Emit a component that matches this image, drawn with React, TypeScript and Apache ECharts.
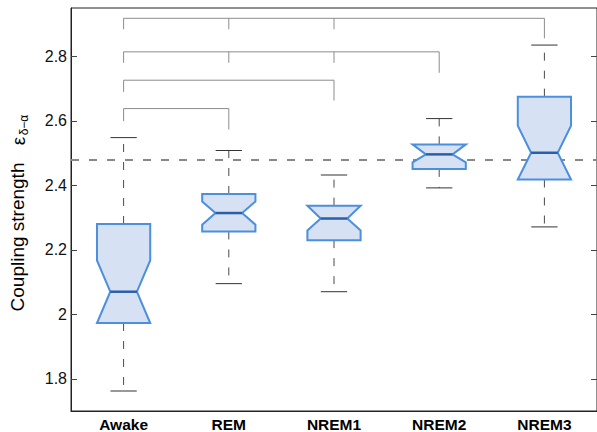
import React, { useEffect, useRef } from "react";
import * as echarts from "echarts";

const categories = ["Awake", "REM", "NREM1", "NREM2", "NREM3"];
const whiskerLow = [1.762, 2.095, 2.07, 2.392, 2.271];
const q1 = [1.973, 2.257, 2.23, 2.451, 2.418];
const notchLow = [1.973, 2.278, 2.26, 2.471, 2.418];
const median = [2.07, 2.314, 2.297, 2.496, 2.501];
const notchHigh = [2.167, 2.35, 2.337, 2.527, 2.585];
const q3 = [2.28, 2.373, 2.337, 2.527, 2.675];
const whiskerHigh = [2.548, 2.508, 2.432, 2.607, 2.835];
const referenceLevel = 2.476;
const yTicks = [1.8, 2.0, 2.2, 2.4, 2.6, 2.8];

const bracketFrom = [0, 0, 0, 0];
const bracketTo = [4, 3, 2, 1];
const bracketLevel = [2.918, 2.814, 2.726, 2.638];
const bracketStartDrop = [2.884, 2.78, 2.69, 2.599];
const bracketEndDrop = [2.856, 2.749, 2.663, 2.573];
const bracketMidCount = [2, 2, 0, 0];

const BOX_EDGE = "#4c8fdd";
const BOX_FILL = "#d6e1f3";
const MEDIAN = "#2b5ea9";
const WHISKER = "#4a4a4a";
const BRACKET = "#8c8c8c";
const FONT = "Liberation Sans, Arial, sans-serif";

export default function App() {
  const ref = useRef<HTMLDivElement>(null);
  useEffect(() => {
    if (!ref.current) return;
    const chart = echarts.init(ref.current, null, { renderer: "svg" });

    const boxData = categories.map((_, i) => [
      i,
      whiskerLow[i],
      q1[i],
      notchLow[i],
      median[i],
      notchHigh[i],
      q3[i],
      whiskerHigh[i],
    ]);
    const bracketData = bracketFrom.map((f, i) => [
      f,
      bracketLevel[i],
      bracketTo[i],
      bracketStartDrop[i],
      bracketEndDrop[i],
      bracketMidCount[i],
    ]);

    const option: any = {
      animation: false,
      backgroundColor: "#ffffff",
      grid: {
        left: 71,
        right: -2,
        top: 8,
        bottom: 20,
        show: true,
        borderColor: "#222",
        borderWidth: 1,
      },
      xAxis: {
        type: "category",
        data: categories,
        boundaryGap: true,
        axisTick: { show: false },
        axisLine: { lineStyle: { color: "#222", width: 1 } },
        axisLabel: {
          color: "#000",
          fontFamily: FONT,
          fontWeight: "bold",
          fontSize: 15.5,
          margin: 5,
        },
        splitLine: { show: false },
      },
      yAxis: [
        {
          type: "value",
          min: 1.7,
          max: 2.95,
          axisLine: { show: true, lineStyle: { color: "#222", width: 1 } },
          axisTick: {
            show: true,
            inside: true,
            length: 6,
            customValues: yTicks,
            lineStyle: { color: "#444" },
          },
          axisLabel: {
            customValues: yTicks,
            color: "#111",
            fontFamily: FONT,
            fontSize: 16,
            margin: 4,
          },
          splitLine: { show: false },
        },
        {
          type: "value",
          position: "right",
          min: 1.7,
          max: 2.95,
          axisLine: { show: false },
          axisTick: {
            show: true,
            inside: true,
            length: 6,
            customValues: yTicks,
            lineStyle: { color: "#444" },
          },
          axisLabel: { show: false },
          splitLine: { show: false },
        },
      ],
      graphic: [
        {
          type: "text",
          x: 17,
          y: 237,
          rotation: Math.PI / 2,
          style: {
            text: "Coupling strength",
            align: "center",
            verticalAlign: "middle",
            fill: "#000",
            fontSize: 19,
            fontFamily: FONT,
          },
        },
        {
          type: "text",
          x: 18,
          y: 141,
          rotation: Math.PI / 2,
          style: {
            text: "ε",
            align: "center",
            verticalAlign: "middle",
            fill: "#000",
            fontSize: 19,
            fontFamily: FONT,
          },
        },
        {
          type: "text",
          x: 24,
          y: 125,
          rotation: Math.PI / 2,
          style: {
            text: "δ−α",
            align: "center",
            verticalAlign: "middle",
            fill: "#000",
            fontSize: 12,
            fontFamily: FONT,
          },
        },
      ],
      series: [
        {
          type: "line",
          data: [],
          markLine: {
            silent: true,
            symbol: "none",
            z: 2,
            label: { show: false },
            lineStyle: { color: "#888", width: 2, type: [8, 10] },
            data: [{ yAxis: referenceLevel }],
          },
        },
        {
          type: "custom",
          z: 3,
          clip: false,
          encode: { x: 0, y: 1 },
          data: bracketData,
          renderItem: (params: any, api: any) => {
            const from = api.value(0);
            const level = api.value(1);
            const to = api.value(2);
            const sd = api.value(3);
            const ed = api.value(4);
            const mid = api.value(5);
            const pFrom = api.coord([from, level]);
            const pTo = api.coord([to, level]);
            const ySd = api.coord([from, sd])[1];
            const yEd = api.coord([to, ed])[1];
            const children: any[] = [
              {
                type: "polyline",
                shape: {
                  points: [
                    [pFrom[0], ySd],
                    [pFrom[0], pFrom[1]],
                    [pTo[0], pTo[1]],
                    [pTo[0], yEd],
                  ],
                },
                style: { stroke: BRACKET, lineWidth: 1, fill: "none" },
              },
            ];
            for (let k = 1; k <= mid; k++) {
              const px = api.coord([from + k, level])[0];
              children.push({
                type: "line",
                shape: { x1: px, y1: pFrom[1], x2: px, y2: ySd },
                style: { stroke: BRACKET, lineWidth: 1 },
              });
            }
            return { type: "group", children };
          },
        },
        {
          type: "custom",
          z: 10,
          encode: { x: 0, y: [1, 2, 3, 4, 5, 6, 7] },
          data: boxData,
          renderItem: (params: any, api: any) => {
            const i = api.value(0);
            const band = api.size([1, 0])[0];
            const hw = band * 0.253;
            const capHw = band * 0.125;
            const cx = api.coord([i, 0])[0];
            const y = (d: number) => api.coord([i, api.value(d)])[1];
            const yWL = y(1);
            const yQ1 = y(2);
            const yNL = y(3);
            const yMed = y(4);
            const yNH = y(5);
            const yQ3 = y(6);
            const yWH = y(7);
            const L = cx - hw;
            const R = cx + hw;
            const nl = cx - hw / 2;
            const nr = cx + hw / 2;
            return {
              type: "group",
              children: [
                {
                  type: "line",
                  shape: { x1: cx, y1: yQ3, x2: cx, y2: yWH },
                  style: { stroke: WHISKER, lineWidth: 1, lineDash: [8, 10] },
                },
                {
                  type: "line",
                  shape: { x1: cx, y1: yQ1, x2: cx, y2: yWL },
                  style: { stroke: WHISKER, lineWidth: 1, lineDash: [8, 10] },
                },
                {
                  type: "line",
                  shape: { x1: cx - capHw, y1: yWH, x2: cx + capHw, y2: yWH },
                  style: { stroke: "#333", lineWidth: 1 },
                },
                {
                  type: "line",
                  shape: { x1: cx - capHw, y1: yWL, x2: cx + capHw, y2: yWL },
                  style: { stroke: "#333", lineWidth: 1 },
                },
                {
                  type: "polygon",
                  shape: {
                    points: [
                      [L, yQ3],
                      [R, yQ3],
                      [R, yNH],
                      [nr, yMed],
                      [R, yNL],
                      [R, yQ1],
                      [L, yQ1],
                      [L, yNL],
                      [nl, yMed],
                      [L, yNH],
                    ],
                  },
                  style: { fill: BOX_FILL, stroke: BOX_EDGE, lineWidth: 2 },
                },
                {
                  type: "line",
                  shape: { x1: nl, y1: yMed, x2: nr, y2: yMed },
                  style: { stroke: MEDIAN, lineWidth: 2.5 },
                },
              ],
            };
          },
        },
      ],
    };
    chart.setOption(option);
    return () => chart.dispose();
  }, []);
  return <div ref={ref} style={{ width: 597, height: 432, position: "fixed", left: 0, top: 0 }} />;
}
